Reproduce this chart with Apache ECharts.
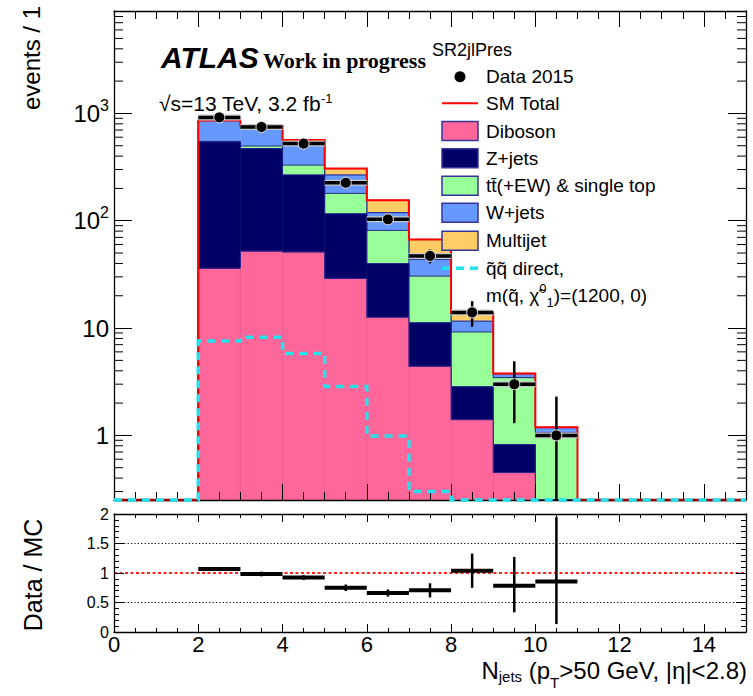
<!DOCTYPE html>
<html>
<head>
<meta charset="utf-8">
<script src="https://cdn.jsdelivr.net/npm/echarts@6.0.0/dist/echarts.min.js"></script>
<style>
html,body{margin:0;padding:0;background:#fff;}
#chart{width:753px;height:696px;}
</style>
</head>
<body>
<div id="chart"></div>
<script>
// ---------------- data ----------------
const binLow   = [2, 3, 4, 5, 6, 7, 8, 9, 10];       // N_jets bin lower edges
const diboson  = [36, 52, 51, 29, 12.6, 4.4, 1.4, 0.45, 0.05];
const zjets    = [505, 418, 216, 87, 27.2, 6.8, 1.44, 0.37, 0.05];
const ttbar    = [8, 27, 63, 64, 41.6, 19.3, 6.36, 2.63, 0.96];
const wjets    = [307, 260, 232, 87, 37.6, 13.2, 2.4, 0.3, 0.12];
const multijet = [4, 5, 3, 39, 36, 23.3, 2.3, 0.03, 0.01];
const signal   = [7.57, 8.2, 5.8, 2.86, 0.985, 0.30, 0, 0, 0];
const dataVals    = [918, 747, 523, 226, 103, 47, 14, 3, 1];
const dataErrUp   = [30, 27, 23, 15, 10, 6.9, 3.8, 1.9, 1.3];
const dataErrDown = [30, 27, 23, 15, 10, 6.9, 3.7, 1.7, 1.0];
const ratioVals    = [1.067, 0.983, 0.922, 0.75, 0.661, 0.706, 1.039, 0.783, 0.856];
const ratioErrUp   = [0.035, 0.04, 0.04, 0.055, 0.06, 0.12, 0.29, 0.49, 1.09];
const ratioErrDown = [0.035, 0.04, 0.04, 0.055, 0.06, 0.12, 0.29, 0.45, 0.72];
const xTickLabels     = ['0', '2', '4', '6', '8', '10', '12', '14'];
const ratioTickLabels = ['0', '0.5', '1', '1.5', '2'];
const logMajorLabels  = {'1': '1', '10': '10', '100': '10{sup|2}', '1000': '10{sup|3}'};
const logMinorTicks   = [0.3, 0.4, 0.5, 0.6, 0.7, 0.8, 0.9,
                         2, 3, 4, 5, 6, 7, 8, 9,
                         20, 30, 40, 50, 60, 70, 80, 90,
                         200, 300, 400, 500, 600, 700, 800, 900,
                         2000, 3000, 4000, 5000, 6000, 7000, 8000];
const ratioRefLines = [0.5, 1, 1.5];

// ---------------- settings ----------------
const BIN_W = 1;
const X_MIN = 0, X_MAX = 15;
const Y_MIN = 0.25, Y_MAX = 9000;
const FONT = 'Liberation Sans';
const EDGE = '#1e1e8c';
const compNames  = ['Diboson', 'Z+jets', 'tt\u0304(+EW) & single top', 'W+jets', 'Multijet'];
const compArrays = [diboson, zjets, ttbar, wjets, multijet];
const compColors = ['#ff6699', '#000066', '#99ff99', '#6699ff', '#ffcc66'];
const SIG_COLOR = '#22e2ec';

// cumulative stack
const cum = [];
compArrays.forEach((arr, k) => cum.push(arr.map((v, i) => v + (k ? cum[k - 1][i] : 0))));
const total = cum[cum.length - 1];

function stackRender(k) {
  return function (params, api) {
    const i = params.dataIndex;
    const x0 = api.value(0), x1 = api.value(1);
    const v = Math.max(api.value(2), Y_MIN);
    const prev = i > 0 ? Math.max(cum[k][i - 1], Y_MIN) : Y_MIN;
    const pTop = api.coord([x0, v]);
    const pBot = api.coord([x1, Y_MIN]);
    const pPrev = api.coord([x0, prev]);
    const pts = [[pTop[0], pPrev[1]], [pTop[0], pTop[1]], [pBot[0], pTop[1]]];
    if (i === binLow.length - 1) pts.push([pBot[0], pBot[1]]);
    return {
      type: 'group', children: [
        {type: 'rect', shape: {x: pTop[0], y: pTop[1], width: pBot[0] - pTop[0], height: pBot[1] - pTop[1]},
         style: {fill: compColors[k], stroke: compColors[k], lineWidth: 0.5}},
        {type: 'polyline', shape: {points: pts}, style: {stroke: EDGE, lineWidth: 1, fill: null}}
      ]
    };
  };
}

function stepPoints(api, vals) {
  const last = binLow[binLow.length - 1] + BIN_W;
  const pts = [api.coord([binLow[0], Y_MIN])];
  binLow.forEach((x, i) => {
    const v = Math.max(vals[i], Y_MIN);
    pts.push(api.coord([x, v]));
    pts.push(api.coord([x + BIN_W, v]));
  });
  pts.push(api.coord([last, Y_MIN]));
  return pts;
}

function totalRender(params, api) {
  if (params.dataIndex !== 0) return null;
  const last = binLow[binLow.length - 1] + BIN_W;
  const fl = [api.coord([X_MIN, Y_MIN]), api.coord([binLow[0], Y_MIN])];
  const fr = [api.coord([last, Y_MIN]), api.coord([X_MAX, Y_MIN])];
  return {
    type: 'group', children: [
      {type: 'polyline', shape: {points: fl}, style: {stroke: '#9a0000', lineWidth: 2.5, fill: null}},
      {type: 'polyline', shape: {points: fr}, style: {stroke: '#9a0000', lineWidth: 2.5, fill: null}},
      {type: 'polyline', shape: {points: stepPoints(api, total)}, style: {stroke: '#ff0000', lineWidth: 2, fill: null}}
    ]
  };
}

function signalRender(params, api) {
  if (params.dataIndex !== 0) return null;
  const pts = [api.coord([X_MIN, Y_MIN])].concat(stepPoints(api, signal));
  pts.push(api.coord([X_MAX, Y_MIN]));
  return {type: 'polyline', shape: {points: pts},
          style: {stroke: SIG_COLOR, lineWidth: 3.5, lineDash: [8, 6], fill: null}};
}

function dataRender(params, api) {
  const xc = api.value(0), v = api.value(1), up = api.value(2), dn = api.value(3);
  const pC = api.coord([xc, v]);
  const pL = api.coord([xc - BIN_W / 2, v]), pR = api.coord([xc + BIN_W / 2, v]);
  const pU = api.coord([xc, v + up]), pD = api.coord([xc, Math.max(v - dn, Y_MIN)]);
  return {
    type: 'group', children: [
      {type: 'line', shape: {x1: pL[0], y1: pL[1], x2: pR[0], y2: pR[1]}, style: {stroke: '#c8c8c8', lineWidth: 6}},
      {type: 'line', shape: {x1: pL[0], y1: pL[1], x2: pR[0], y2: pR[1]}, style: {stroke: '#000', lineWidth: 3.5}},
      {type: 'line', shape: {x1: pU[0], y1: pU[1], x2: pD[0], y2: pD[1]}, style: {stroke: '#000', lineWidth: 2.5}},
      {type: 'circle', shape: {cx: pC[0], cy: pC[1], r: 5.5}, style: {fill: '#000', stroke: '#e4e4e4', lineWidth: 1}}
    ]
  };
}

function ratioRender(params, api) {
  const xc = api.value(0), v = api.value(1), up = api.value(2), dn = api.value(3);
  const pL = api.coord([xc - BIN_W / 2, v]), pR = api.coord([xc + BIN_W / 2, v]);
  const pU = api.coord([xc, Math.min(v + up, 2)]), pD = api.coord([xc, Math.max(v - dn, 0)]);
  return {
    type: 'group', children: [
      {type: 'line', shape: {x1: pL[0], y1: pL[1], x2: pR[0], y2: pR[1]}, style: {stroke: '#000', lineWidth: 4}},
      {type: 'line', shape: {x1: pU[0], y1: pU[1], x2: pD[0], y2: pD[1]}, style: {stroke: '#000', lineWidth: 2.5}}
    ]
  };
}

function refLineRender(params, api) {
  const v = api.value(1);
  const p0 = api.coord([X_MIN, v]), p1 = api.coord([X_MAX, v]);
  const isOne = Math.abs(v - 1) < 1e-9;
  return {type: 'line', shape: {x1: p0[0], y1: p0[1], x2: p1[0], y2: p1[1]},
          style: isOne ? {stroke: '#ff2020', lineWidth: 2, lineDash: [3, 2.5]}
                       : {stroke: '#000', lineWidth: 1, lineDash: [1.2, 2.2]}};
}

function logMinorRender(params, api) {
  const v = api.value(1);
  const p = api.coord([X_MIN, v]), q = api.coord([X_MAX, v]);
  return {type: 'group', children: [
    {type: 'line', shape: {x1: p[0], y1: p[1], x2: p[0] + 9, y2: p[1]}, style: {stroke: '#000', lineWidth: 1}},
    {type: 'line', shape: {x1: q[0], y1: q[1], x2: q[0] - 9, y2: q[1]}, style: {stroke: '#000', lineWidth: 1}}
  ]};
}

// ---------------- axes ----------------
function xAx(grid, pos, interval, len, extra) {
  return Object.assign({
    type: 'value', gridIndex: grid, position: pos, min: X_MIN, max: X_MAX, interval: interval, z: 10,
    axisLine: {show: false, onZero: false},
    axisTick: {show: true, inside: true, length: len, lineStyle: {color: '#000', width: 1}},
    axisLabel: {show: false}, splitLine: {show: false}, minorTick: {show: false}
  }, extra || {});
}
const frameLine = {show: true, onZero: false, lineStyle: {color: '#000', width: 1.3}};

const xAxes = [
  xAx(0, 'bottom', 0.5, 8, {axisLine: frameLine}),
  xAx(0, 'bottom', 2, 16),
  xAx(0, 'top', 0.5, 8, {axisLine: frameLine}),
  xAx(0, 'top', 2, 16),
  xAx(1, 'bottom', 0.5, 4, {axisLine: frameLine}),
  xAx(1, 'bottom', 2, 8, {axisLabel: {show: true, margin: 4, fontFamily: FONT, fontSize: 22, lineHeight: 16,
      color: '#000', showMaxLabel: false,
      formatter: v => (xTickLabels.indexOf(String(v)) >= 0 ? String(v) : '')}}),
  xAx(1, 'top', 0.5, 4, {axisLine: frameLine}),
  xAx(1, 'top', 2, 8)
];

function logLabel(v) {
  const e = Math.log10(v), r = Math.round(e);
  if (Math.abs(e - r) > 1e-6) return '';
  const key = String(Math.pow(10, r));
  return logMajorLabels[key] || '';
}

const yAxes = [
  {type: 'log', gridIndex: 0, position: 'left', min: Y_MIN, max: Y_MAX, logBase: 10, splitNumber: 5, z: 10,
   axisLine: frameLine,
   axisTick: {show: true, inside: true, length: 18, lineStyle: {color: '#000', width: 1}},
   axisLabel: {show: true, margin: 5, fontFamily: FONT, fontSize: 24, color: '#000', lineHeight: 32,
     formatter: logLabel,
     rich: {sup: {fontFamily: FONT, fontSize: 16, lineHeight: 16, verticalAlign: 'top', color: '#000'}}},
   splitLine: {show: false}},
  {type: 'log', gridIndex: 0, position: 'right', min: Y_MIN, max: Y_MAX, logBase: 10, splitNumber: 5, z: 10,
   axisLine: frameLine,
   axisTick: {show: true, inside: true, length: 18, lineStyle: {color: '#000', width: 1}},
   axisLabel: {show: false}, splitLine: {show: false}},
  {type: 'value', gridIndex: 1, position: 'left', min: 0, max: 2, interval: 0.5, z: 10,
   axisLine: frameLine,
   axisTick: {show: true, inside: true, length: 10, lineStyle: {color: '#000', width: 1}},
   minorTick: {show: true, splitNumber: 5, length: 5, lineStyle: {color: '#000', width: 1}},
   axisLabel: {show: true, margin: 5, fontFamily: FONT, fontSize: 16, color: '#000',
     formatter: v => (ratioTickLabels.indexOf(String(v)) >= 0 ? String(v) : '')},
   splitLine: {show: false}},
  {type: 'value', gridIndex: 1, position: 'right', min: 0, max: 2, interval: 0.5, z: 10,
   axisLine: frameLine,
   axisTick: {show: true, inside: true, length: 10, lineStyle: {color: '#000', width: 1}},
   minorTick: {show: true, splitNumber: 5, length: 5, lineStyle: {color: '#000', width: 1}},
   axisLabel: {show: false}, splitLine: {show: false}}
];

// ---------------- series ----------------
const series = [];
for (let k = compArrays.length - 1; k >= 0; k--) {
  series.push({
    type: 'custom', name: compNames[k], xAxisIndex: 0, yAxisIndex: 0, z: 2, silent: true,
    renderItem: stackRender(k),
    encode: {x: [0, 1], y: 2},
    data: binLow.map((x, i) => [x, x + BIN_W, cum[k][i]])
  });
}
series.push({
  type: 'custom', name: 'SM Total', xAxisIndex: 0, yAxisIndex: 0, z: 11, silent: true,
  renderItem: totalRender, encode: {x: 0, y: 1},
  data: binLow.map((x, i) => [x, total[i]])
});
series.push({
  type: 'custom', name: 'signal', xAxisIndex: 0, yAxisIndex: 0, z: 12, silent: true,
  renderItem: signalRender, encode: {x: 0, y: 1},
  data: binLow.map((x, i) => [x, Math.max(signal[i], Y_MIN)])
});
series.push({
  type: 'custom', name: 'minor', xAxisIndex: 0, yAxisIndex: 0, z: 10, silent: true,
  renderItem: logMinorRender, encode: {x: 0, y: 1},
  data: logMinorTicks.map(v => [X_MIN, v])
});
series.push({
  type: 'custom', name: 'Data 2015', xAxisIndex: 0, yAxisIndex: 0, z: 13, silent: true,
  renderItem: dataRender, encode: {x: 0, y: 1},
  data: binLow.map((x, i) => [x + BIN_W / 2, dataVals[i], dataErrUp[i], dataErrDown[i]])
});
series.push({
  type: 'custom', name: 'ref', xAxisIndex: 4, yAxisIndex: 2, z: 3, silent: true,
  renderItem: refLineRender, encode: {x: 0, y: 1},
  data: ratioRefLines.map(v => [X_MIN, v])
});
series.push({
  type: 'custom', name: 'ratio', xAxisIndex: 4, yAxisIndex: 2, z: 5, silent: true,
  renderItem: ratioRender, encode: {x: 0, y: 1},
  data: binLow.map((x, i) => [x + BIN_W / 2, ratioVals[i], ratioErrUp[i], ratioErrDown[i]])
});

// ---------------- texts & legend ----------------
function txt(x, y, text, style, extra) {
  return Object.assign({type: 'text', x: x, y: y, z: 100, silent: true,
    style: Object.assign({text: text, fill: '#000', fontFamily: FONT, fontSize: 19, align: 'left', verticalAlign: 'middle'}, style || {})},
    extra || {});
}
const graphics = [];
graphics.push(txt(161, 57.5, 'ATLAS', {fontSize: 30, fontWeight: 'bold', fontStyle: 'italic'}));
graphics.push(txt(263, 60.5, 'Work in progress', {fontSize: 22, fontWeight: 'bold', fontFamily: 'Liberation Serif'}));
graphics.push(txt(432, 50, 'SR2jlPres', {fontSize: 18}));
graphics.push(txt(159, 103.5, '\u221As=13 TeV, 3.2 fb{sup|-1}', {fontSize: 21, lineHeight: 24,
  rich: {sup: {fontFamily: FONT, fontSize: 13, lineHeight: 13, verticalAlign: 'top', fill: '#000'}}}));
graphics.push(txt(0, 0, 'events / 1', {fontSize: 24, align: 'center'}, {x: 31, y: 58, rotation: Math.PI / 2}));
graphics.push(txt(0, 0, 'Data / MC', {fontSize: 25, align: 'center'}, {x: 33, y: 575, rotation: Math.PI / 2}));
graphics.push(txt(747, 658.5, '{m|N}{s1|jets}{m| (p}{s2|T}{m|>50 GeV, |\u03b7|<2.8)}', {align: 'right', verticalAlign: 'top',
  fontSize: 24, lineHeight: 20,
  rich: {
    m: {fontFamily: FONT, fontSize: 24, lineHeight: 20, verticalAlign: 'top', fill: '#000'},
    s1: {fontFamily: FONT, fontSize: 15, lineHeight: 15, verticalAlign: 'top', padding: [10.5, 0, 0, 0], fill: '#000'},
    s2: {fontFamily: FONT, fontSize: 15, lineHeight: 15, verticalAlign: 'top', padding: [16.5, 0, 0, 0], fill: '#000'}
  }}));

// legend
const LX = 442, LW = 36, LT = 486;
const rowY = [76.7, 103.3, 131, 158.3, 185.7, 212.7, 240.7, 268.3, 295.7];
graphics.push({type: 'circle', z: 100, silent: true, shape: {cx: LX + LW / 2, cy: rowY[0], r: 5.5}, style: {fill: '#000'}});
graphics.push(txt(LT, rowY[0], 'Data 2015'));
graphics.push({type: 'line', z: 100, silent: true, shape: {x1: LX, y1: rowY[1], x2: LX + LW, y2: rowY[1]}, style: {stroke: '#ff0000', lineWidth: 2}});
graphics.push(txt(LT, rowY[1], 'SM Total'));
compNames.forEach((name, k) => {
  const y = rowY[2 + k];
  graphics.push({type: 'rect', z: 100, silent: true, shape: {x: LX, y: y - 9.5, width: LW, height: 19},
    style: {fill: compColors[k], stroke: '#35359c', lineWidth: 1.5}});
  graphics.push(txt(LT, y, name));
});
graphics.push({type: 'line', z: 100, silent: true, shape: {x1: LX, y1: rowY[7], x2: LX + LW, y2: rowY[7]},
  style: {stroke: SIG_COLOR, lineWidth: 3.5, lineDash: [8, 6]}});
graphics.push(txt(LT, rowY[7], 'q\u0303q\u0303 direct,'));
graphics.push(txt(LT, rowY[8], 'm(q\u0303, \u03c7\u0303{sup|0}{sub|1})=(1200, 0)', {lineHeight: 27,
  rich: {
    sup: {fontFamily: FONT, fontSize: 13, lineHeight: 13, verticalAlign: 'top', fill: '#000'},
    sub: {fontFamily: FONT, fontSize: 13, lineHeight: 13, verticalAlign: 'bottom', fill: '#000'}
  }}));

const option = {
  animation: false,
  backgroundColor: '#fff',
  grid: [
    {left: 114, right: 7, top: 11, height: 489, containLabel: false, outerBoundsMode: 'none'},
    {left: 114, right: 7, top: 514, height: 118, containLabel: false, outerBoundsMode: 'none'}
  ],
  xAxis: xAxes,
  yAxis: yAxes,
  series: series,
  graphic: graphics
};

const chart = echarts.init(document.getElementById('chart'), null, {renderer: 'svg', width: 753, height: 696});
chart.setOption(option);
</script>
</body>
</html>
